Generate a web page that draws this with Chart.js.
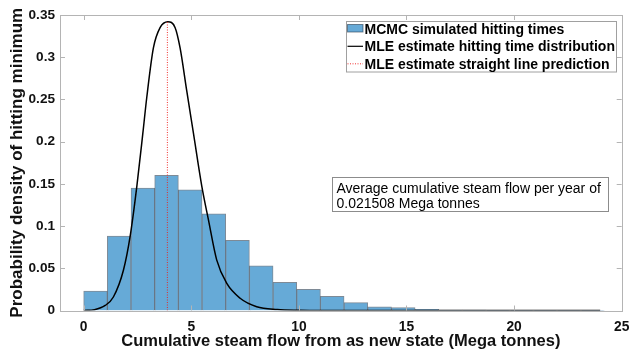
<!DOCTYPE html>
<html>
<head>
<meta charset="utf-8">
<script src="https://cdn.jsdelivr.net/npm/chart.js@4/dist/chart.umd.min.js"></script>
<style>
  html, body { margin: 0; padding: 0; background: #ffffff; }
  #wrap { width: 629px; height: 350px; }
</style>
</head>
<body>
<div id="wrap"><canvas id="c" width="629" height="350"></canvas></div>
<script>
// ---- data ----
const binCenters = [0.55, 1.65, 2.75, 3.85, 4.95, 6.05, 7.15, 8.25, 9.35, 10.45, 11.55,
                    12.65, 13.75, 14.85, 15.95, 17.05, 18.15, 19.25, 20.35, 21.45, 22.55, 23.65];
const binDensity = [0.023, 0.088, 0.145, 0.160, 0.143, 0.1145, 0.083, 0.053, 0.0335, 0.025, 0.0168,
                    0.0093, 0.0042, 0.0035, 0.0015, 0.0006, 0.0005, 0.0002, 0.0002, 0.0002, 0.0002, 0.0002];
const curveX = [0, 0.5, 1.0, 1.38, 1.85, 2.16, 2.47, 2.75, 2.93, 3.24, 3.55, 3.91, 4.25, 4.48,
                4.79, 5.10, 5.49, 5.80, 6.18, 6.65, 7.27, 8.04, 9.0, 10.0, 11.0, 14.0, 24.0];
const curveY = [0, 0.001, 0.006, 0.016, 0.048, 0.088, 0.147, 0.21, 0.252, 0.311, 0.335, 0.342, 0.335, 0.311,
                0.26, 0.21, 0.147, 0.107, 0.060, 0.032, 0.0145, 0.0045, 0.0012, 0.0003, 0, 0, 0];
const mleLineX = [3.89, 3.89];
const mleLineY = [0, 0.342];
const xTickValues = [0, 5, 10, 15, 20, 25];
const xTickLabels = ['0', '5', '10', '15', '20', '25'];
const yTickValues = [0, 0.05, 0.1, 0.15, 0.2, 0.25, 0.3, 0.35];
const yTickLabels = ['0', '0.05', '0.1', '0.15', '0.2', '0.25', '0.3', '0.35'];
const seriesNames = ['MCMC simulated hitting times', 'MLE estimate hitting time distribution', 'MLE estimate straight line prediction'];
const noteLines = ['Average cumulative steam flow per year of', '0.021508 Mega tonnes'];
const xTitle = 'Cumulative steam flow from as new state (Mega tonnes)';
const yTitle = 'Probability density of hitting minimum';

// ---- styles ----
const FONT = '"Liberation Sans", Arial, Helvetica, sans-serif';
const BAR_FILL = '#66aad7';
const BAR_EDGE = 'rgba(40,60,80,0.6)';
const AXIS_GREY = '#b4b4b4';
const RED = 'rgba(240,30,30,0.9)';

const overlay = {
  id: 'matlabOverlay',
  afterDraw(chart) {
    const ctx = chart.ctx;
    const a = chart.chartArea;
    const xs = chart.scales.x, ys = chart.scales.y;
    ctx.save();
    // axes box
    ctx.strokeStyle = AXIS_GREY;
    ctx.lineWidth = 1;
    ctx.strokeRect(Math.round(a.left) + 0.5, Math.round(a.top) + 0.5,
                   Math.round(a.right - a.left), Math.round(a.bottom - a.top));
    // inward ticks
    ctx.beginPath();
    xTickValues.forEach(v => {
      const p = Math.round(xs.getPixelForValue(v)) + 0.5;
      if (p > a.left + 2 && p < a.right - 2) {
        ctx.moveTo(p, a.bottom); ctx.lineTo(p, a.bottom - 5);
        ctx.moveTo(p, a.top); ctx.lineTo(p, a.top + 5);
      }
    });
    yTickValues.forEach(v => {
      const p = Math.round(ys.getPixelForValue(v)) + 0.5;
      if (p > a.top + 2 && p < a.bottom - 2) {
        ctx.moveTo(a.left, p); ctx.lineTo(a.left + 5, p);
        ctx.moveTo(a.right, p); ctx.lineTo(a.right - 5, p);
      }
    });
    ctx.stroke();

    // legend box
    const lx = 346.5, ly = 21.5, lw = 270, lh = 50.5;
    ctx.fillStyle = '#ffffff';
    ctx.fillRect(lx, ly, lw, lh);
    ctx.strokeStyle = '#a0a0a0';
    ctx.strokeRect(lx, ly, lw, lh);
    ctx.font = 'bold 14px ' + FONT;
    ctx.textBaseline = 'alphabetic';
    ctx.textAlign = 'left';
    const rows = [33.5, 51, 68.5];
    const mids = [28.5, 46.3, 63.8];
    // swatch: bar
    ctx.fillStyle = BAR_FILL;
    ctx.fillRect(347.5, 24.5, 15.5, 7.5);
    ctx.strokeStyle = BAR_EDGE;
    ctx.strokeRect(347.5, 24.5, 15.5, 7.5);
    // swatch: curve
    ctx.strokeStyle = '#000000';
    ctx.lineWidth = 1.2;
    ctx.beginPath(); ctx.moveTo(347.5, mids[1]); ctx.lineTo(363, mids[1]); ctx.stroke();
    // swatch: red dotted
    ctx.strokeStyle = RED;
    ctx.lineWidth = 1;
    ctx.setLineDash([1, 1.5]);
    ctx.beginPath(); ctx.moveTo(347.5, mids[2]); ctx.lineTo(363, mids[2]); ctx.stroke();
    ctx.setLineDash([]);
    ctx.fillStyle = '#000000';
    chart.data.datasets.forEach((ds, i) => {
      ctx.fillText(ds.label, 364.5, rows[i]);
    });

    // annotation box
    ctx.fillStyle = '#ffffff';
    ctx.fillRect(332.5, 177.5, 276, 34);
    ctx.strokeStyle = '#8c8c8c';
    ctx.lineWidth = 1;
    ctx.strokeRect(332.5, 177.5, 276, 34);
    ctx.fillStyle = '#000000';
    ctx.font = '14px ' + FONT;
    ctx.fillText(noteLines[0], 336.5, 193.3);
    ctx.fillText(noteLines[1], 336.5, 207.7);
    ctx.restore();
  }
};

new Chart(document.getElementById('c'), {
  type: 'bar',
  data: {
    datasets: [
      {
        type: 'bar',
        label: seriesNames[0],
        data: binCenters.map((x, i) => ({ x: x, y: binDensity[i] })),
        backgroundColor: BAR_FILL,
        borderColor: BAR_EDGE,
        borderWidth: 1,
        barPercentage: 1,
        categoryPercentage: 1,
        order: 3
      },
      {
        type: 'line',
        label: seriesNames[1],
        data: curveX.map((x, i) => ({ x: x, y: curveY[i] })),
        borderColor: '#000000',
        borderWidth: 1.5,
        pointRadius: 0,
        fill: false,
        cubicInterpolationMode: 'monotone',
        order: 2
      },
      {
        type: 'line',
        label: seriesNames[2],
        data: mleLineX.map((x, i) => ({ x: x, y: mleLineY[i] })),
        borderColor: RED,
        borderWidth: 1,
        borderDash: [1, 1.5],
        pointRadius: 0,
        fill: false,
        order: 1
      }
    ]
  },
  options: {
    responsive: false,
    animation: false,
    events: [],
    layout: { padding: { top: 15, right: 7.3, left: 0, bottom: 0 } },
    plugins: { legend: { display: false }, tooltip: { enabled: false } },
    scales: {
      x: {
        type: 'linear',
        offset: false,
        min: -1.1,
        max: 25,
        grid: { display: false, drawTicks: false },
        border: { display: false },
        afterBuildTicks: s => { s.ticks = xTickValues.map(v => ({ value: v })); },
        afterFit: s => { s.height = 39.5; s.paddingLeft = 0; s.paddingRight = 0; },
        ticks: {
          padding: 8.5,
          color: '#111111',
          font: { family: FONT, size: 13.8, weight: 'bold' },
          maxRotation: 0,
          autoSkip: false,
          callback: (v, i) => xTickLabels[i]
        },
        title: {
          display: true,
          text: xTitle,
          color: '#111111',
          font: { family: FONT, size: 16.5, weight: 'bold', lineHeight: 1.0 },
          padding: { top: 0, bottom: 0.3 }
        }
      },
      y: {
        type: 'linear',
        min: 0,
        max: 0.35,
        grid: { display: false, drawTicks: false },
        border: { display: false },
        afterBuildTicks: s => { s.ticks = yTickValues.map(v => ({ value: v })); },
        afterFit: s => { s.width = 60; s.paddingTop = 0; s.paddingBottom = 0; },
        ticks: {
          padding: 5,
          color: '#111111',
          font: { family: FONT, size: 13.6, weight: 'bold' },
          callback: (v, i) => yTickLabels[i]
        },
        title: {
          display: true,
          text: yTitle,
          color: '#111111',
          font: { family: FONT, size: 17, weight: 'bold', lineHeight: 1.2 },
          padding: { top: 7.3, bottom: 0 }
        }
      }
    }
  },
  plugins: [overlay]
});
</script>
</body>
</html>
